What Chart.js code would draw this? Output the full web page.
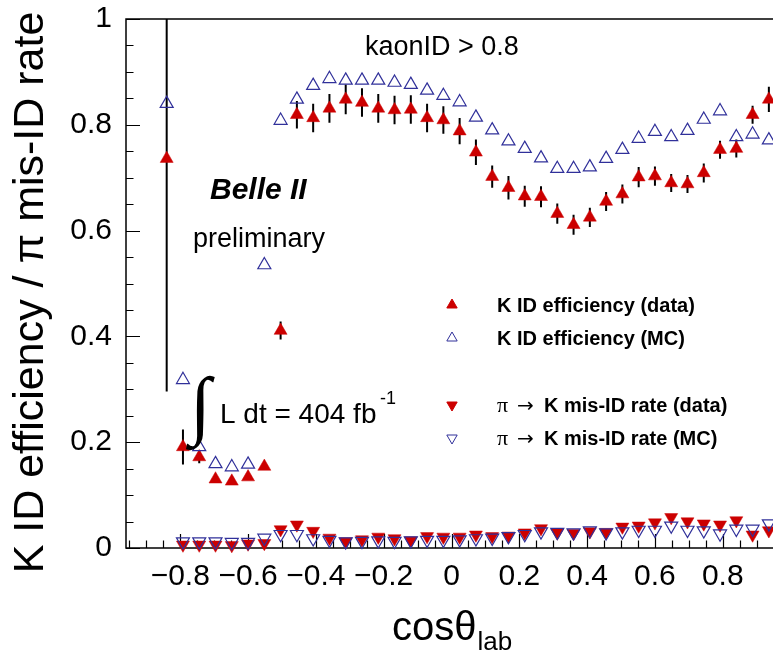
<!DOCTYPE html>
<html><head><meta charset="utf-8">
<script src="https://cdn.jsdelivr.net/npm/chart.js@4/dist/chart.umd.min.js"></script>
<style>
html,body{margin:0;padding:0;background:#fff;overflow:hidden;}
#wrap{position:relative;width:790px;height:652px;}
</style></head><body>
<div id="wrap"><canvas id="c" width="790" height="652"></canvas></div>
<script>
// ---- data ----
const binCenters = [-0.840,-0.792,-0.744,-0.696,-0.648,-0.600,-0.552,-0.504,-0.456,-0.408,
  -0.360,-0.312,-0.264,-0.216,-0.168,-0.120,-0.072,-0.024,0.024,0.072,
  0.120,0.168,0.216,0.264,0.312,0.360,0.408,0.456,0.504,0.552,
  0.600,0.648,0.696,0.744,0.792,0.840,0.888,0.936];
const kEffData = [0.736,0.191,0.172,0.130,0.126,0.134,0.154,0.411,0.819,0.813,
  0.831,0.848,0.842,0.831,0.828,0.829,0.813,0.809,0.788,0.748,
  0.702,0.681,0.665,0.664,0.632,0.611,0.625,0.655,0.669,0.701,
  0.703,0.690,0.688,0.709,0.753,0.755,0.819,0.848];
const kEffDataErr = [0.44,0.033,0.012,0.004,0.004,0.004,0.004,0.017,0.026,0.027,
  0.027,0.028,0.027,0.027,0.027,0.027,0.027,0.026,0.025,0.024,
  0.021,0.022,0.020,0.020,0.019,0.019,0.018,0.018,0.018,0.019,
  0.018,0.017,0.017,0.018,0.017,0.017,0.017,0.024];
const kEffMC = [0.840,0.318,0.191,0.159,0.153,0.158,0.535,0.808,0.848,0.874,
  0.887,0.884,0.884,0.884,0.880,0.876,0.865,0.855,0.843,0.814,
  0.790,0.769,0.755,0.737,0.717,0.717,0.720,0.736,0.753,0.774,
  0.787,0.777,0.789,0.810,0.826,0.777,0.782,0.771];
const misIdData = [null,0.006,0.006,0.006,0.005,0.008,0.009,0.035,0.044,0.032,
  0.019,0.0125,0.016,0.021,0.018,0.014,0.022,0.021,0.021,0.025,
  0.022,0.023,0.029,0.037,0.029,0.028,0.031,0.030,0.040,0.042,
  0.048,0.058,0.050,0.046,0.044,0.052,0.025,0.033];
const misIdMC = [null,0.012,0.012,0.012,0.011,0.011,0.019,0.026,0.026,0.018,
  0.015,0.012,0.013,0.014,0.013,0.014,0.015,0.015,0.016,0.018,
  0.019,0.022,0.026,0.031,0.030,0.029,0.033,0.029,0.031,0.034,
  0.034,0.042,0.034,0.033,0.027,0.036,0.036,0.046];

const xTickValues = [-0.8,-0.6,-0.4,-0.2,0,0.2,0.4,0.6,0.8];
const xTickLabels = ['\u22120.8','\u22120.6','\u22120.4','\u22120.2','0','0.2','0.4','0.6','0.8'];
const yTickValues = [0,0.2,0.4,0.6,0.8,1];
const yTickLabels = ['0','0.2','0.4','0.6','0.8','1'];
const xRange = [-0.96, 0.96];
const yRange = [0, 1];
const minorStep = 0.05;

const legendLabels = ['K ID efficiency (data)','K ID efficiency (MC)','K mis-ID rate (data)','K mis-ID rate (MC)'];
const yTitle = 'K ID efficiency / \u03c0 mis-ID rate';

const RED = '#cc0000', BLUE = '#30309a';
const pts = arr => binCenters.map((c,i)=>({x:c, y:arr[i]})).filter(p=>p.y!=null);

const rootPlugin = {
  id: 'rootStyle',
  beforeDatasetsDraw(chart) {
    const {ctx, chartArea:a, scales:{x, y}} = chart;
    ctx.save();
    // frame
    ctx.strokeStyle = '#000'; ctx.lineWidth = 1.5;
    ctx.strokeRect(a.left, a.top, a.right - a.left, a.bottom - a.top);
    // ticks (inward)
    ctx.lineWidth = 1.2;
    ctx.beginPath();
    for (let v = Math.ceil(xRange[0]/minorStep)*minorStep; v <= xRange[1]+1e-9; v += minorStep) {
      const isMajor = xTickValues.some(t => Math.abs(t - v) < 1e-6);
      const px = Math.round(x.getPixelForValue(v)) + 0.5;
      ctx.moveTo(px, a.bottom); ctx.lineTo(px, a.bottom - (isMajor ? 14 : 7.5));
    }
    for (let v = yRange[0]; v <= yRange[1]+1e-9; v += minorStep) {
      const isMajor = yTickValues.some(t => Math.abs(t - v) < 1e-6);
      const py = Math.round(y.getPixelForValue(v)) + 0.5;
      ctx.moveTo(a.left, py); ctx.lineTo(a.left + (isMajor ? 14 : 7.5), py);
    }
    ctx.stroke();
    // error bars of the data points
    ctx.beginPath(); ctx.rect(a.left, a.top, a.right - a.left, a.bottom - a.top); ctx.clip();
    ctx.strokeStyle = '#000'; ctx.lineWidth = 2;
    ctx.beginPath();
    binCenters.forEach((c, i) => {
      const v = kEffData[i], e = kEffDataErr[i];
      if (v == null || !e) return;
      const px = x.getPixelForValue(c);
      ctx.moveTo(px, y.getPixelForValue(v - e));
      ctx.lineTo(px, y.getPixelForValue(v + e));
    });
    ctx.stroke();
    ctx.restore();
  },
  afterDraw(chart) {
    const {ctx, scales:{x, y}} = chart;
    ctx.save();
    ctx.fillStyle = '#000';
    ctx.textBaseline = 'alphabetic';
    ctx.textAlign = 'left';
    const SANS = "'Liberation Sans', Arial, sans-serif";
    // y-axis title (rotated, centred slightly below the plot centre like the reference)
    ctx.save();
    ctx.font = '43px ' + SANS;
    ctx.translate(31, (y.top + y.bottom) / 2 + 9);
    ctx.rotate(-Math.PI / 2);
    ctx.textAlign = 'center'; ctx.textBaseline = 'middle';
    ctx.fillText(yTitle, 0, 0);
    ctx.restore();
    // x-axis title: cos theta_lab
    const main = 'cos\u03b8', sub = 'lab';
    ctx.font = '40px ' + SANS; const wMain = ctx.measureText(main).width;
    ctx.font = '26px ' + SANS; const wSub = ctx.measureText(sub).width;
    const cx = (x.left + x.right) / 2;
    const x0 = cx - (wMain + wSub) / 2;
    ctx.font = '40px ' + SANS; ctx.fillText(main, x0, 640);
    ctx.font = '26px ' + SANS; ctx.fillText(sub, x0 + wMain + 1, 650);
    // annotations
    ctx.font = '27px ' + SANS; ctx.fillText('kaonID > 0.8', 365, 55);
    ctx.font = 'italic bold 30px ' + SANS; ctx.fillText('Belle II', 210, 199);
    ctx.font = '27px ' + SANS; ctx.fillText('preliminary', 193, 247);
    ctx.font = "76px 'Liberation Serif', serif"; ctx.fillText('\u222b', 190, 430);
    ctx.font = '28px ' + SANS; ctx.fillText('L dt = 404 fb', 220, 423);
    ctx.font = '18px ' + SANS; ctx.fillText('-1', 380, 404);
    // legend
    const rows = [305, 338, 405, 438];
    const styles = [
      {pointStyle:'triangle', rotation:0, fill:RED, stroke:RED, filled:true},
      {pointStyle:'triangle', rotation:0, fill:null, stroke:BLUE, filled:false},
      {pointStyle:'triangle', rotation:180, fill:RED, stroke:RED, filled:true},
      {pointStyle:'triangle', rotation:180, fill:null, stroke:BLUE, filled:false}
    ];
    rows.forEach((ry, i) => {
      const s = styles[i];
      ctx.save();
      ctx.fillStyle = s.filled ? s.fill : 'rgba(0,0,0,0)';
      ctx.strokeStyle = s.stroke; ctx.lineWidth = 1;
      Chart.helpers.drawPoint(ctx, {pointStyle:s.pointStyle, radius:6, rotation:s.rotation, borderWidth:1}, 452, ry);
      ctx.restore();
      ctx.fillStyle = '#000';
      if (i < 2) {
        ctx.font = 'bold 20px ' + SANS; ctx.fillText(legendLabels[i], 497, ry + 7);
      } else {
        ctx.font = "22px 'Liberation Serif', serif"; ctx.fillText('\u03c0', 497, ry + 7);
        ctx.font = "20px 'DejaVu Sans', sans-serif"; ctx.fillText('\u2192', 517, ry + 7);
        ctx.font = 'bold 20px ' + SANS; ctx.fillText(legendLabels[i], 544, ry + 7);
      }
    });
    ctx.restore();
  }
};

new Chart(document.getElementById('c'), {
  type: 'scatter',
  data: {
    datasets: [
      {label:'K ID efficiency (MC)', data: pts(kEffMC), pointStyle:'triangle', pointRadius:7.5,
        pointRotation:0, backgroundColor:'rgba(0,0,0,0)', borderColor:BLUE, borderWidth:1.2, clip:false, order:1},
      {label:'pi -> K mis-ID rate (MC)', data: pts(misIdMC), pointStyle:'triangle', pointRadius:7.5,
        pointRotation:180, backgroundColor:'rgba(0,0,0,0)', borderColor:BLUE, borderWidth:1.2, clip:false, order:2},
      {label:'K ID efficiency (data)', data: pts(kEffData), pointStyle:'triangle', pointRadius:7.5,
        pointRotation:0, backgroundColor:RED, borderColor:RED, borderWidth:0.5, clip:false, order:3},
      {label:'pi -> K mis-ID rate (data)', data: pts(misIdData), pointStyle:'triangle', pointRadius:7.5,
        pointRotation:180, backgroundColor:RED, borderColor:RED, borderWidth:0.5, clip:false, order:4}
    ]
  },
  options: {
    responsive: false,
    animation: false,
    devicePixelRatio: 1,
    layout: {padding: {top: 19, right: 13, left: 0, bottom: 0}},
    plugins: {legend: {display: false}, tooltip: {enabled: false}},
    elements: {point: {hoverRadius: 7.5}},
    scales: {
      x: {
        type: 'linear', min: xRange[0], max: xRange[1],
        grid: {display: false, drawTicks: false},
        border: {display: false},
        afterBuildTicks: s => { s.ticks = xTickValues.map(v => ({value: v})); },
        afterFit: s => { s.height = 104; s.paddingLeft = 0; s.paddingRight = 0; },
        ticks: {
          autoSkip: false, maxRotation: 0, padding: 11, color: '#000',
          font: {family: "'Liberation Sans', Arial, sans-serif", size: 30},
          callback: (v, i) => xTickLabels[i]
        }
      },
      y: {
        type: 'linear', min: yRange[0], max: yRange[1],
        grid: {display: false, drawTicks: false},
        border: {display: false},
        afterBuildTicks: s => { s.ticks = yTickValues.map(v => ({value: v})); },
        afterFit: s => { s.width = 126; s.paddingTop = 0; s.paddingBottom = 0; },
        ticks: {
          autoSkip: false, padding: 14, color: '#000',
          font: {family: "'Liberation Sans', Arial, sans-serif", size: 30},
          callback: (v, i) => yTickLabels[i]
        }
      }
    }
  },
  plugins: [rootPlugin]
});
</script>
</body></html>
